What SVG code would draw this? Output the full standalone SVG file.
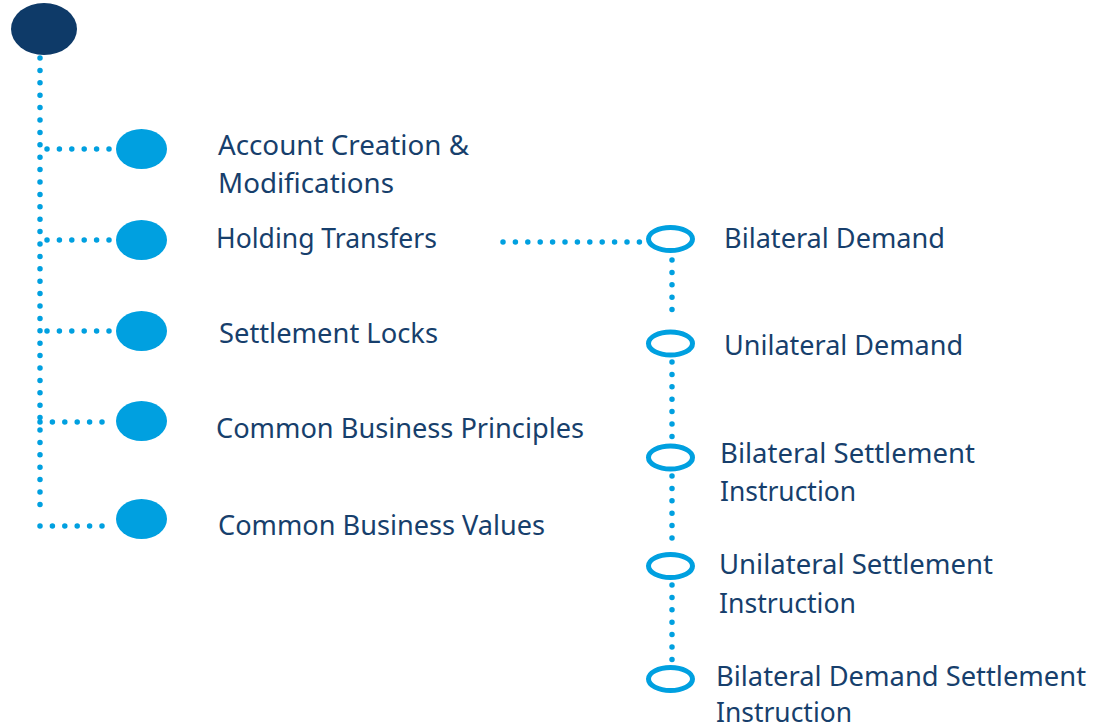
<svg xmlns="http://www.w3.org/2000/svg" width="1098" height="727" viewBox="0 0 1098 727">
<style>
.dot{fill:none;stroke:#00A0E0;stroke-width:5.5;stroke-linecap:round;stroke-dasharray:0 12.4}
.fill{fill:#00A0E0}
.ring{fill:#fff;stroke:#00A0E0;stroke-width:5}
.root{fill:#0E3A68}
text{font-family:"Noto Sans","Open Sans",sans-serif;font-size:27px;fill:#173F6C}
</style>
<rect width="1098" height="727" fill="#fff"/>
<g id="connectors">
<path class="dot" d="M40 58 V516"/>
<path class="dot" d="M47 149 H112"/>
<path class="dot" d="M47 240 H112"/>
<path class="dot" d="M47 331 H112"/>
<path class="dot" d="M40 422 H112"/>
<path class="dot" d="M40 526 H112"/>
<path class="dot" d="M503 242 H643"/>
<path class="dot" d="M672 260 V312"/>
<path class="dot" d="M672 362 V440"/>
<path class="dot" d="M672 476 V550"/>
<path class="dot" d="M672 585 V662"/>
</g>
<g id="root"><ellipse class="root" cx="44" cy="29" rx="33" ry="26"/></g>
<g id="n1"><ellipse class="fill" cx="141.5" cy="149" rx="25.5" ry="20"/>
<text x="218" y="155" textLength="251" lengthAdjust="spacingAndGlyphs">Account Creation &amp;</text>
<text x="218" y="193" textLength="176" lengthAdjust="spacingAndGlyphs">Modifications</text></g>
<g id="n2"><ellipse class="fill" cx="141.5" cy="240" rx="25.5" ry="20"/>
<text x="216" y="248" textLength="221" lengthAdjust="spacingAndGlyphs">Holding Transfers</text></g>
<g id="n3"><ellipse class="fill" cx="141.5" cy="331" rx="25.5" ry="20"/>
<text x="219" y="343" textLength="219" lengthAdjust="spacingAndGlyphs">Settlement Locks</text></g>
<g id="n4"><ellipse class="fill" cx="141.5" cy="421" rx="25.5" ry="20"/>
<text x="216" y="438" textLength="368" lengthAdjust="spacingAndGlyphs">Common Business Principles</text></g>
<g id="n5"><ellipse class="fill" cx="141.5" cy="519" rx="25.5" ry="20"/>
<text x="218" y="535" textLength="327" lengthAdjust="spacingAndGlyphs">Common Business Values</text></g>
<g id="r1"><ellipse class="ring" cx="670.5" cy="239" rx="22" ry="11.5"/>
<text x="724" y="248" textLength="221" lengthAdjust="spacingAndGlyphs">Bilateral Demand</text></g>
<g id="r2"><ellipse class="ring" cx="670.5" cy="343.5" rx="22" ry="11.5"/>
<text x="724" y="355" textLength="239" lengthAdjust="spacingAndGlyphs">Unilateral Demand</text></g>
<g id="r3"><ellipse class="ring" cx="670.5" cy="457.5" rx="22" ry="11.5"/>
<text x="720" y="463" textLength="255" lengthAdjust="spacingAndGlyphs">Bilateral Settlement</text>
<text x="720" y="501" textLength="136" lengthAdjust="spacingAndGlyphs">Instruction</text></g>
<g id="r4"><ellipse class="ring" cx="670.5" cy="566" rx="22" ry="11.5"/>
<text x="719" y="574" textLength="274" lengthAdjust="spacingAndGlyphs">Unilateral Settlement</text>
<text x="719" y="613" textLength="137" lengthAdjust="spacingAndGlyphs">Instruction</text></g>
<g id="r5"><ellipse class="ring" cx="670.5" cy="679" rx="22" ry="11.5"/>
<text x="716" y="686" textLength="370" lengthAdjust="spacingAndGlyphs">Bilateral Demand Settlement</text>
<text x="716" y="722" textLength="136" lengthAdjust="spacingAndGlyphs">Instruction</text></g>
</svg>
